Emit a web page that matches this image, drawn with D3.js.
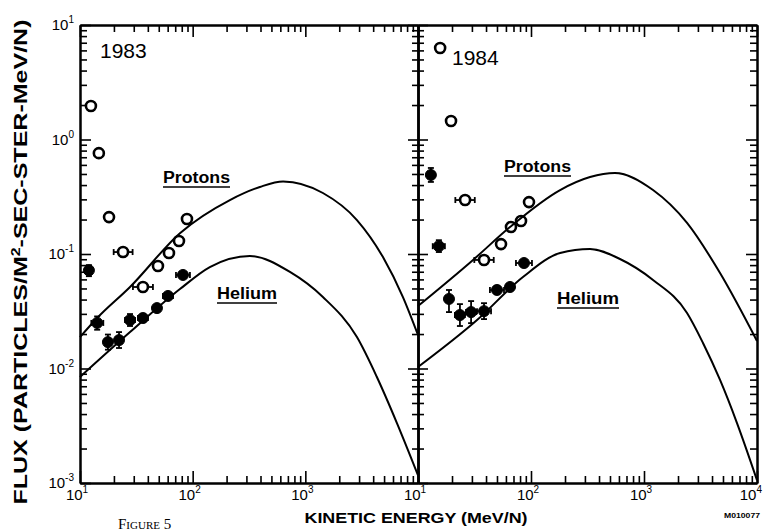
<!DOCTYPE html>
<html><head><meta charset="utf-8">
<script src="https://cdn.jsdelivr.net/npm/d3@7"></script>
<style>
body{margin:0;background:#fff;}
svg{display:block;}
</style></head><body>
<svg id="chart" width="763" height="531"></svg>
<script>
// ---------------- DATA ----------------
const panelYears = ["1983", "1984"];
const xDecades = [10, 100, 1000, 10000];
const xDecadeExps = ["1", "2", "3", "4"];
const yDecades = [10, 1, 0.1, 0.01, 0.001];
const yDecadeExps = ["1", "0", "-1", "-2", "-3"];

// 1983 protons (open circles)
const energy1983P = [12.5, 14.7, 18.1, 24.1, 36.2, 49.2, 61.6, 75.6, 89];
const flux1983P   = [1.96, 0.76, 0.21, 0.104, 0.0515, 0.0785, 0.102, 0.13, 0.202];
const eLo1983P    = [12.5, 14.7, 18.1, 19.9, 29.5, 49.2, 61.6, 75.6, 89];
const eHi1983P    = [12.5, 14.7, 18.1, 29.3, 44.4, 49.2, 61.6, 75.6, 89];

// 1983 helium (filled circles)
const energy1983He = [12.0, 14.2, 17.7, 22.2, 27.8, 36.2, 48.2, 60.4, 82];
const flux1983He   = [0.072, 0.025, 0.017, 0.0177, 0.0265, 0.0276, 0.0337, 0.043, 0.0656];
const fLo1983He    = [0.064, 0.0218, 0.0146, 0.0151, 0.0235, 0.0255, 0.0317, 0.0405, 0.0618];
const fHi1983He    = [0.080, 0.0285, 0.0198, 0.0208, 0.0299, 0.0299, 0.0358, 0.0457, 0.0697];
const eLo1983He    = [12.0, 12.6, 17.7, 22.2, 25.1, 32.7, 48.2, 54.5, 71.1];
const eHi1983He    = [12.0, 16.1, 17.7, 22.2, 30.8, 40.1, 48.2, 66.9, 94.6];

// 1984 protons (open circles)
const energy1984P = [15.7, 19.6, 26.1, 38.4, 54.3, 66.5, 81.6, 96];
const flux1984P   = [6.3, 1.45, 0.296, 0.0887, 0.122, 0.172, 0.194, 0.284];
const eLo1984P    = [15.7, 19.6, 21.4, 31.5, 54.3, 66.5, 81.6, 96];
const eHi1984P    = [15.7, 19.6, 31.8, 46.8, 54.3, 66.5, 81.6, 96];

// 1984 helium (filled circles)
const energy1984He = [13.0, 15.3, 18.8, 23.5, 29.5, 38.4, 50, 65.2, 86.7];
const flux1984He   = [0.49, 0.117, 0.0405, 0.0293, 0.0311, 0.0317, 0.0485, 0.0515, 0.0834];
const fLo1984He    = [0.426, 0.104, 0.0311, 0.0235, 0.0249, 0.027, 0.0447, 0.0485, 0.0785];
const fHi1984He    = [0.564, 0.132, 0.0485, 0.0365, 0.0388, 0.0372, 0.0526, 0.0547, 0.0886];
const eLo1984He    = [13.0, 13.5, 18.8, 21.2, 26.6, 33.3, 43.3, 65.2, 73.6];
const eHi1984He    = [13.0, 17.3, 18.8, 26.0, 32.7, 44.3, 57.7, 65.2, 102];

// Model curves
const curveEnergyP83 = [10, 14.2, 27.8, 77.1, 214, 395, 635, 1432, 2871, 4887, 7350, 10000];
const curveFluxP83   = [0.0188, 0.0276, 0.0515, 0.152, 0.296, 0.385, 0.43, 0.341, 0.198, 0.094, 0.042, 0.0196];
const curveEnergyHe83 = [10, 27.8, 77.1, 142, 322, 730, 1432, 2871, 4315, 6501, 10000];
const curveFluxHe83   = [0.00843, 0.0208, 0.0494, 0.0769, 0.096, 0.0697, 0.0421, 0.0188, 0.00843, 0.00334, 0.00117];
const curveEnergyP84 = [10, 30.7, 65.2, 181, 333, 553, 1202, 2404, 4709, 10000];
const curveFluxP84   = [0.0351, 0.0887, 0.172, 0.362, 0.47, 0.51, 0.362, 0.187, 0.0682, 0.0174];
const curveEnergyHe84 = [10, 33.3, 84.9, 181, 333, 613, 1202, 2404, 3327, 4709, 6653, 10000];
const curveFluxHe84   = [0.0103, 0.0265, 0.063, 0.102, 0.1106, 0.0904, 0.0593, 0.0305, 0.0167, 0.00794, 0.00334, 0.00106];

// ---------------- LAYOUT ----------------
const L = 80, M = 418, R = 757, T = 25, B = 483;
const svg = d3.select("#chart");
svg.append("rect").attr("width", 763).attr("height", 531).attr("fill", "#fff");

const xL = d3.scaleLog().domain([10, 1e4]).range([L, M]);
const xR = d3.scaleLog().domain([10, 1e4]).range([M, R]);
const y = d3.scaleLog().domain([1e-3, 10]).range([B, T]);

const isMajor = v => Math.abs(Math.log10(v) - Math.round(Math.log10(v))) < 1e-6;
const yMinor = y.ticks().filter(v => !isMajor(v));
const yMajor = y.ticks().filter(isMajor);
const xMinor = xL.ticks().filter(v => !isMajor(v));
const xMajor = xL.ticks().filter(isMajor);

function drawAxis(gen, tx, ty, minorSize, majorSize, minorVals, majorVals) {
  [[minorVals, minorSize], [majorVals, majorSize]].forEach(([vals, size]) => {
    const g = svg.append("g").attr("transform", `translate(${tx},${ty})`)
      .call(gen.tickValues(vals).tickSize(size).tickSizeOuter(0).tickFormat(""));
    g.select(".domain").attr("stroke", "#000").attr("stroke-width", 2);
    g.selectAll(".tick line").attr("stroke", "#000").attr("stroke-width", 1.6);
  });
}
// left panel
drawAxis(d3.axisLeft(y), L, 0, -7, -11, yMinor, yMajor);
drawAxis(d3.axisTop(xL), 0, T, -7, -12, xMinor, xMajor);
drawAxis(d3.axisBottom(xL), 0, B, -7, -12, xMinor, xMajor);
// shared middle axis (ticks on both sides)
drawAxis(d3.axisLeft(y), M, 0, 6, 10, yMinor, yMajor);
drawAxis(d3.axisRight(y), M, 0, 6, 10, yMinor, yMajor);
// right panel
drawAxis(d3.axisTop(xR), 0, T, -7, -12, xMinor, xMajor);
drawAxis(d3.axisBottom(xR), 0, B, -7, -12, xMinor, xMajor);
drawAxis(d3.axisRight(y), R, 0, -7, -11, yMinor, yMajor);

// tick labels
const labelFont = "'Liberation Sans', Arial, sans-serif";
function powerLabel(x, yy, exp, anchor) {
  const t = svg.append("text").attr("x", x).attr("y", yy)
    .attr("text-anchor", anchor).attr("font-family", labelFont)
    .attr("font-size", 15).attr("fill", "#000");
  t.append("tspan").text("10");
  t.append("tspan").attr("dy", -7).attr("font-size", 10).text(exp);
}
yDecades.forEach((v, i) => powerLabel(74, y(v) + 5, yDecadeExps[i], "end"));
// left panel: 10^1..10^3 (10^4 position shared with right panel's 10^1)
xDecades.slice(0, 3).forEach((v, i) => powerLabel(xL(v) - 3, 500, xDecadeExps[i], "middle"));
// right panel
xDecades.forEach((v, i) => {
  if (i < 3) powerLabel(xR(v) - 3, 500, xDecadeExps[i], "middle");
  else powerLabel(762, 500, xDecadeExps[i], "end");
});

// curves
const curves = [
  [xL, curveEnergyP83, curveFluxP83],
  [xL, curveEnergyHe83, curveFluxHe83],
  [xR, curveEnergyP84, curveFluxP84],
  [xR, curveEnergyHe84, curveFluxHe84]
];
curves.forEach(([xs, es, fs]) => {
  const line = d3.line().x(d => xs(d[0])).y(d => y(d[1])).curve(d3.curveMonotoneX);
  svg.append("path").attr("d", line(es.map((e, i) => [e, fs[i]])))
    .attr("fill", "none").attr("stroke", "#000").attr("stroke-width", 2);
});

// points with error bars
function drawPoints(xs, es, fs, eLo, eHi, fLo, fHi, filled) {
  const r = filled ? 5.5 : 5;
  const g = svg.append("g");
  es.forEach((e, i) => {
    const cx = xs(e), cy = y(fs[i]);
    const cap = 3;
    if (eLo && eLo[i] !== e) {
      const x0 = xs(eLo[i]), x1 = xs(eHi[i]);
      g.append("line").attr("x1", x0).attr("x2", cx - r).attr("y1", cy).attr("y2", cy);
      g.append("line").attr("x1", cx + r).attr("x2", x1).attr("y1", cy).attr("y2", cy);
      g.append("line").attr("x1", x0).attr("x2", x0).attr("y1", cy - cap).attr("y2", cy + cap);
      g.append("line").attr("x1", x1).attr("x2", x1).attr("y1", cy - cap).attr("y2", cy + cap);
    }
    if (fLo && fLo[i] !== fs[i]) {
      const y0 = y(fLo[i]), y1 = y(fHi[i]);
      g.append("line").attr("x1", cx).attr("x2", cx).attr("y1", y0).attr("y2", y1);
      g.append("line").attr("x1", cx - cap).attr("x2", cx + cap).attr("y1", y0).attr("y2", y0);
      g.append("line").attr("x1", cx - cap).attr("x2", cx + cap).attr("y1", y1).attr("y2", y1);
    }
    g.append("circle").attr("cx", cx).attr("cy", cy).attr("r", r)
      .attr("fill", filled ? "#000" : "none").attr("stroke", "#000")
      .attr("stroke-width", filled ? 1 : 2.6);
  });
  g.selectAll("line").attr("stroke", "#000").attr("stroke-width", 1.8);
}
drawPoints(xL, energy1983P, flux1983P, eLo1983P, eHi1983P, null, null, false);
drawPoints(xL, energy1983He, flux1983He, eLo1983He, eHi1983He, fLo1983He, fHi1983He, true);
drawPoints(xR, energy1984P, flux1984P, eLo1984P, eHi1984P, null, null, false);
drawPoints(xR, energy1984He, flux1984He, eLo1984He, eHi1984He, fLo1984He, fHi1984He, true);

// panel years
svg.append("text").attr("x", 100).attr("y", 58).attr("font-family", labelFont)
  .attr("font-size", 21).text(panelYears[0]);
svg.append("text").attr("x", 452).attr("y", 65).attr("font-family", labelFont)
  .attr("font-size", 21).text(panelYears[1]);

// curve labels (underlined)
function curveLabel(txt, x, yy, w) {
  svg.append("text").attr("x", x).attr("y", yy).attr("font-family", labelFont)
    .attr("font-size", 16).attr("font-weight", "bold")
    .attr("textLength", w).attr("lengthAdjust", "spacingAndGlyphs").text(txt);
  svg.append("line").attr("x1", x).attr("x2", x + w).attr("y1", yy + 4).attr("y2", yy + 4)
    .attr("stroke", "#000").attr("stroke-width", 1.6);
}
curveLabel("Protons", 163, 183, 67);
curveLabel("Helium", 217, 299, 60);
curveLabel("Protons", 504, 172, 67);
curveLabel("Helium", 557, 304, 62);

// axis titles
const yt = svg.append("text").attr("transform", "translate(27,262) rotate(-90)")
  .attr("text-anchor", "middle").attr("font-family", labelFont)
  .attr("font-size", 19).attr("font-weight", "bold")
  .attr("textLength", 485).attr("lengthAdjust", "spacingAndGlyphs");
yt.append("tspan").text("FLUX (PARTICLES/M");
yt.append("tspan").attr("dy", -7).attr("font-size", 12).text("2");
yt.append("tspan").attr("dy", 7).text("-SEC-STER-MeV/N)");

svg.append("text").attr("x", 416).attr("y", 523).attr("text-anchor", "middle")
  .attr("font-family", labelFont).attr("font-size", 15).attr("font-weight", "bold")
  .attr("textLength", 223).attr("lengthAdjust", "spacingAndGlyphs")
  .text("KINETIC ENERGY (MeV/N)");

svg.append("text").attr("x", 742).attr("y", 518).attr("text-anchor", "middle")
  .attr("font-family", labelFont).attr("font-size", 7).attr("font-weight", "bold")
  .attr("textLength", 36).attr("lengthAdjust", "spacingAndGlyphs").text("M010077");

svg.append("text").attr("x", 118).attr("y", 529)
  .attr("font-family", "'Liberation Serif', 'DejaVu Serif', serif")
  .attr("font-size", 15).attr("font-variant", "small-caps").text("Figure 5");
</script>
</body></html>
